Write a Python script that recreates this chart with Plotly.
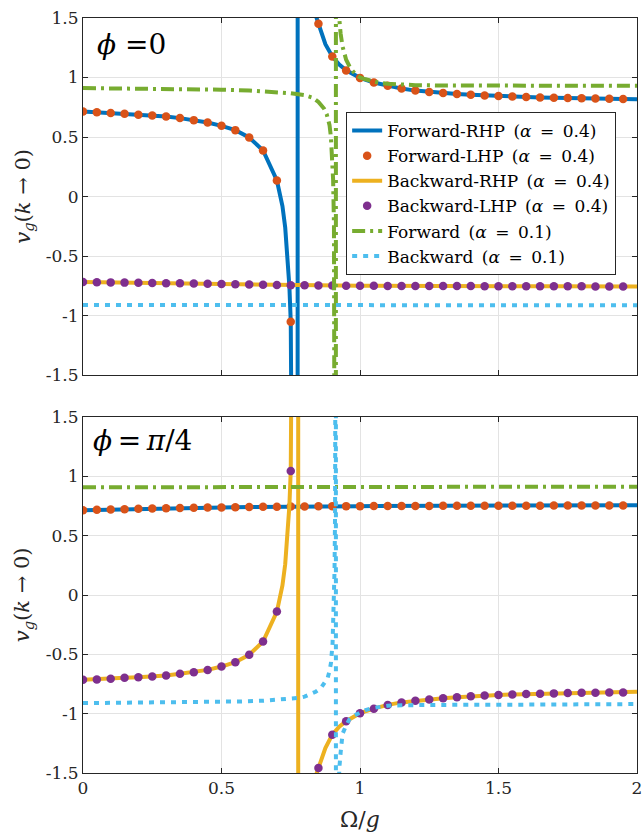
import plotly.graph_objects as go

# ---------------- data ----------------
omega_dots = [0.00, 0.05, 0.10, 0.15, 0.20, 0.25, 0.30, 0.35, 0.40, 0.45,
              0.50, 0.55, 0.60, 0.65, 0.70, 0.75, 0.80, 0.85, 0.90, 0.95,
              1.00, 1.05, 1.10, 1.15, 1.20, 1.25, 1.30, 1.35, 1.40, 1.45,
              1.50, 1.55, 1.60, 1.65, 1.70, 1.75, 1.80, 1.85, 1.90, 1.95]

# phi = 0 panel
fwd_lhp_phi0 = [0.715, 0.709, 0.701, 0.695, 0.687, 0.681, 0.673, 0.659, 0.642, 0.622,
                0.594, 0.558, 0.496, 0.387, 0.135, -1.051, None, 1.452, 1.177, 1.060,
                0.997, 0.958, 0.931, 0.907, 0.890, 0.878, 0.869, 0.861, 0.855, 0.849,
                0.844, 0.840, 0.836, 0.833, 0.830, 0.827, 0.825, 0.823, 0.821, 0.820]
fwd_rhp_phi0_extra_x = [0.72, 0.73, 0.74, 0.745, 0.755, 0.76, 0.765, 0.77, 0.774,
                        0.776, 0.78, 0.79, 0.80, 0.82, 0.835, 0.875, 0.925, 0.975, 2.0]
fwd_rhp_phi0_extra_y = [-0.08, -0.26, -0.54, -0.753, -1.49, -2.23, -3.7, -8.2, -43,
                        52, 11.1, 4.2, 2.83, 1.91, 1.56, 1.28, 1.108, 1.025, 0.818]

bwd_lhp_phi0 = [-0.718, -0.720, -0.721, -0.723, -0.724, -0.726, -0.728, -0.729, -0.731, -0.733,
                -0.735, -0.737, -0.739, -0.741, -0.743, -0.745, -0.746, -0.747, -0.748, -0.749,
                -0.750, -0.750, -0.751, -0.751, -0.751, -0.752, -0.752, -0.752, -0.752, -0.753,
                -0.753, -0.753, -0.753, -0.754, -0.754, -0.754, -0.754, -0.755, -0.755, -0.755]
bwd_rhp_phi0_extra_x = [2.0]
bwd_rhp_phi0_extra_y = [-0.756]

fwd01_phi0_x = [0, 0.1, 0.2, 0.3, 0.4, 0.5, 0.6, 0.7, 0.75, 0.8, 0.83, 0.85, 0.87, 0.88, 0.89,
                0.895, 0.9, 0.903, 0.906, 0.908, 0.909, 0.910, 0.911, 0.912, 0.914, 0.916,
                0.918, 0.921, 0.925, 0.93, 0.937, 0.95, 0.965, 0.985, 1.0, 1.02, 1.045, 1.07,
                1.1, 1.15, 1.2, 1.3, 1.5, 1.75, 2.0]
fwd01_phi0_y = [0.911, 0.910, 0.908, 0.906, 0.903, 0.898, 0.890, 0.877, 0.868, 0.852, 0.830,
                0.795, 0.74, 0.69, 0.60, 0.50, 0.33, 0.14, -0.24, -0.8, -1.38, -2.5, -6, -40,
                40, 6, 3.0, 2.0, 1.5, 1.37, 1.26, 1.15, 1.08, 1.023, 1.0, 0.985, 0.967, 0.955,
                0.947, 0.940, 0.936, 0.933, 0.932, 0.931, 0.930]

bwd01_phi0_x = [0, 0.5, 1.0, 1.5, 2.0]
bwd01_phi0_y = [-0.911, -0.911, -0.912, -0.912, -0.913]

# phi = pi/4 panel
fwd_lhp_phi4 = [0.715, 0.718, 0.721, 0.723, 0.726, 0.729, 0.732, 0.734, 0.735, 0.737,
                0.738, 0.740, 0.741, 0.743, 0.744, 0.745, 0.746, 0.747, 0.748, 0.749,
                0.749, 0.750, 0.750, 0.751, 0.751, 0.751, 0.752, 0.752, 0.752, 0.752,
                0.753, 0.753, 0.753, 0.753, 0.754, 0.754, 0.754, 0.754, 0.755, 0.755]
fwd_rhp_phi4_extra_x = [2.0]
fwd_rhp_phi4_extra_y = [0.757]

bwd_lhp_phi4 = [-0.715, -0.712, -0.706, -0.698, -0.693, -0.687, -0.678, -0.664, -0.650, -0.631,
                -0.603, -0.566, -0.504, -0.392, -0.140, 1.046, None, -1.458, -1.177, -1.063,
                -0.996, -0.958, -0.926, -0.905, -0.891, -0.880, -0.871, -0.861, -0.853, -0.847,
                -0.843, -0.838, -0.835, -0.832, -0.829, -0.826, -0.824, -0.823, -0.821, -0.821]
bwd_rhp_phi4_extra_x = [0.72, 0.73, 0.74, 0.745, 0.755, 0.76, 0.765, 0.77, 0.776,
                        0.778, 0.78, 0.79, 0.80, 0.82, 0.835, 0.875, 0.925, 0.975, 2.0]
bwd_rhp_phi4_extra_y = [0.08, 0.26, 0.54, 0.75, 1.49, 2.23, 3.7, 8.2, 43,
                        -50, -18, -4.7, -3.0, -1.96, -1.56, -1.29, -1.11, -1.025, -0.816]

fwd01_phi4_x = [0, 0.5, 1.0, 1.5, 2.0]
fwd01_phi4_y = [0.908, 0.909, 0.909, 0.910, 0.913]

bwd01_phi4_x = [0, 0.2, 0.4, 0.5, 0.57, 0.65, 0.7, 0.75, 0.777, 0.8, 0.817, 0.84, 0.859, 0.872,
                0.883, 0.89, 0.895, 0.901, 0.905, 0.908, 0.910, 0.911, 0.912, 0.9125, 0.9135,
                0.916, 0.92, 0.925, 0.93, 0.937, 0.95, 0.961, 0.975, 0.997, 1.02, 1.045, 1.07,
                1.1, 1.15, 1.2, 1.3, 1.5, 1.75, 2.0]
bwd01_phi4_y = [-0.911, -0.909, -0.906, -0.903, -0.897, -0.891, -0.885, -0.876, -0.868, -0.856,
                -0.841, -0.815, -0.784, -0.745, -0.70, -0.64, -0.574, -0.406, -0.15, 0.2, 0.7,
                1.3, 3.0, 40, -40, -6, -2.5, -1.47, -1.33, -1.17, -1.10, -1.05, -1.02, -0.995,
                -0.97, -0.953, -0.943, -0.933, -0.929, -0.927, -0.926, -0.925, -0.922, -0.919]

x_ticks = [0, 0.5, 1, 1.5, 2]
x_ticktext = ["0", "0.5", "1", "1.5", "2"]
y_ticks = [-1.5, -1, -0.5, 0, 0.5, 1, 1.5]
y_ticktext = ["-1.5", "-1", "-0.5", "0", "0.5", "1", "1.5"]

EN = "\u2002"
legend_names = [f"Forward-RHP{EN}(<i>α</i>{EN}={EN}0.4)", f"Forward-LHP{EN}(<i>α</i>{EN}={EN}0.4)",
                f"Backward-RHP{EN}(<i>α</i>{EN}={EN}0.4)", f"Backward-LHP{EN}(<i>α</i>{EN}={EN}0.4)",
                f"Forward{EN}(<i>α</i>{EN}={EN}0.1)", f"Backward{EN}(<i>α</i>{EN}={EN}0.1)"]

# ---------------- styling ----------------
C_BLUE = "#0072BD"
C_ORANGE = "#D95319"
C_YELLOW = "#EDB120"
C_PURPLE = "#7E2F8E"
C_GREEN = "#77AC30"
C_LBLUE = "#4DBEEE"
FONT = "DejaVu Serif"
LW = 4


def merged(xd, yd, xe, ye):
    pts = [(a, b) for a, b in zip(xd, yd) if b is not None] + list(zip(xe, ye))
    pts.sort(key=lambda p: p[0])
    return [p[0] for p in pts], [p[1] for p in pts]


fig = go.Figure()


def add_panel(xa, ya, first, fwd_lhp, fwd_ex, bwd_lhp, bwd_ex, f01, b01):
    fx, fy = merged(omega_dots, fwd_lhp, *fwd_ex)
    bx, by = merged(omega_dots, bwd_lhp, *bwd_ex)
    common = dict(xaxis=xa, yaxis=ya, showlegend=first, hoverinfo="skip")
    fig.add_trace(go.Scatter(x=fx, y=fy, mode="lines", name=legend_names[0],
                             line=dict(color=C_BLUE, width=LW), **common))
    fig.add_trace(go.Scatter(x=omega_dots, y=fwd_lhp, mode="markers", name=legend_names[1],
                             marker=dict(color=C_ORANGE, size=8.5), **common))
    fig.add_trace(go.Scatter(x=bx, y=by, mode="lines", name=legend_names[2],
                             line=dict(color=C_YELLOW, width=LW), **common))
    fig.add_trace(go.Scatter(x=omega_dots, y=bwd_lhp, mode="markers", name=legend_names[3],
                             marker=dict(color=C_PURPLE, size=8.5), **common))
    fig.add_trace(go.Scatter(x=f01[0], y=f01[1], mode="lines", name=legend_names[4],
                             line=dict(color=C_GREEN, width=LW, dash="13px,5px,3px,5px"), **common))
    fig.add_trace(go.Scatter(x=b01[0], y=b01[1], mode="lines", name=legend_names[5],
                             line=dict(color=C_LBLUE, width=LW, dash="5px,6px"), **common))


add_panel("x", "y", True, fwd_lhp_phi0, (fwd_rhp_phi0_extra_x, fwd_rhp_phi0_extra_y),
          bwd_lhp_phi0, (bwd_rhp_phi0_extra_x, bwd_rhp_phi0_extra_y),
          (fwd01_phi0_x, fwd01_phi0_y), (bwd01_phi0_x, bwd01_phi0_y))
add_panel("x2", "y2", False, fwd_lhp_phi4, (fwd_rhp_phi4_extra_x, fwd_rhp_phi4_extra_y),
          bwd_lhp_phi4, (bwd_rhp_phi4_extra_x, bwd_rhp_phi4_extra_y),
          (fwd01_phi4_x, fwd01_phi4_y), (bwd01_phi4_x, bwd01_phi4_y))

axis_common = dict(showline=True, linecolor="#262626", linewidth=1, mirror="ticks",
                   ticks="inside", ticklen=5, tickcolor="#262626", showgrid=True,
                   gridcolor="#e3e3e3", gridwidth=1, zeroline=False,
                   ticklabeloverflow="allow", automargin=False,
                   tickfont=dict(family=FONT, size=17, color="#262626"))

fig.update_layout(
    width=642, height=838, autosize=False,
    margin=dict(l=83, r=5, t=18, b=65),
    paper_bgcolor="white", plot_bgcolor="white",
    font=dict(family=FONT, color="#262626"),
    xaxis=dict(domain=[0, 1], anchor="y", range=[0, 2], tickvals=x_ticks,
               ticktext=x_ticktext, showticklabels=False, **axis_common),
    yaxis=dict(domain=[0.527, 1], anchor="x", range=[-1.5, 1.5], tickvals=y_ticks,
               ticktext=y_ticktext, **axis_common),
    xaxis2=dict(domain=[0, 1], anchor="y2", range=[0, 2], tickvals=x_ticks,
                ticktext=x_ticktext, **axis_common),
    yaxis2=dict(domain=[0, 0.4715], anchor="x2", range=[-1.5, 1.5], tickvals=y_ticks,
                ticktext=y_ticktext, **axis_common),
    legend=dict(x=0.475, y=0.8755, xanchor="left", yanchor="top",
                bgcolor="white", bordercolor="#262626", borderwidth=1,
                font=dict(family=FONT, size=17, color="black")),
)

TH = "\u2009"
ann_font = dict(family=FONT, size=28, color="black")
fig.add_annotation(xref="x", yref="y", x=0.045, y=1.28, text="<i>ϕ</i> =0",
                   showarrow=False, xanchor="left", yanchor="middle", font=ann_font)
fig.add_annotation(xref="x2", yref="y2", x=0.03, y=1.3,
                   text=f"<i>ϕ</i>{TH}={TH}<i>π</i>/4",
                   showarrow=False, xanchor="left", yanchor="middle", font=ann_font)

title_font = dict(family=FONT, size=21, color="#262626")
for yc in [(0.527 + 1) / 2, 0.4715 / 2]:
    fig.add_annotation(xref="paper", yref="paper", x=-0.108, y=yc,
                       text="<i>v</i><sub><i>g</i></sub>(<i>k</i> → 0)",
                       textangle=-90, showarrow=False, xanchor="center", yanchor="middle",
                       font=title_font)
fig.add_annotation(xref="paper", yref="paper", x=0.5, y=-0.062,
                   text="Ω/<i>g</i>", showarrow=False, xanchor="center", yanchor="middle",
                   font=dict(family=FONT, size=22, color="#262626"))

fig.write_html("out.html", config={"displayModeBar": False},
               post_script="document.body.style.margin='0';")
